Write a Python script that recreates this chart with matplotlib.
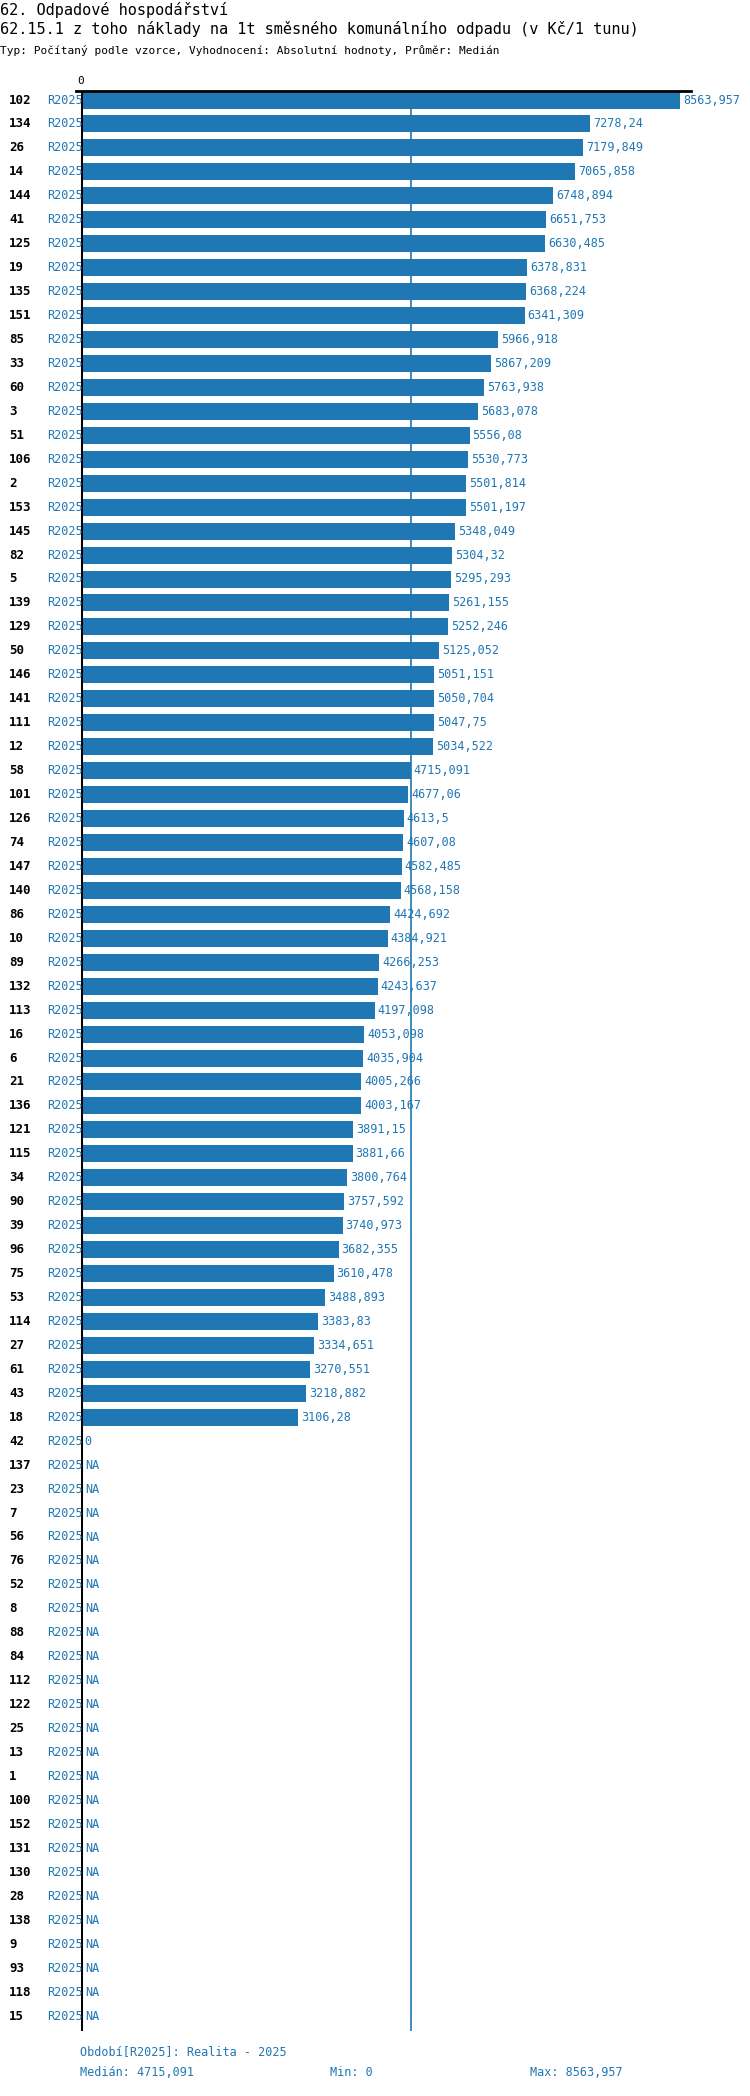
import matplotlib
matplotlib.use("Agg")
import matplotlib.pyplot as plt
import numpy as np

ids = ["102","134","26","14","144","41","125","19","135","151","85","33","60","3","51","106","2","153","145","82","5","139","129","50","146","141","111","12","58","101","126","74","147","140","86","10","89","132","113","16","6","21","136","121","115","34","90","39","96","75","53","114","27","61","43","18","42","137","23","7","56","76","52","8","88","84","112","122","25","13","1","100","152","131","130","28","138","9","93","118","15"]
values = [8563.957,7278.24,7179.849,7065.858,6748.894,6651.753,6630.485,6378.831,6368.224,6341.309,5966.918,5867.209,5763.938,5683.078,5556.08,5530.773,5501.814,5501.197,5348.049,5304.32,5295.293,5261.155,5252.246,5125.052,5051.151,5050.704,5047.75,5034.522,4715.091,4677.06,4613.5,4607.08,4582.485,4568.158,4424.692,4384.921,4266.253,4243.637,4197.098,4053.098,4035.904,4005.266,4003.167,3891.15,3881.66,3800.764,3757.592,3740.973,3682.355,3610.478,3488.893,3383.83,3334.651,3270.551,3218.882,3106.28,0.0] + [None]*24
period = "R2025"
median = 4715.091

BLUE = "#1f77b4"
W, H = 750, 2096
fig = plt.figure(figsize=(W/100, H/100), dpi=100)
mono = "DejaVu Sans Mono"

def fmt(v):
    s = f"{v:.3f}".rstrip("0").rstrip(".")
    return s.replace(".", ",")

ax_l, ax_r, ax_t, ax_b = 81, 740, 91, 2031
ax = fig.add_axes([ax_l/W, 1-ax_b/H, (ax_r-ax_l)/W, (ax_b-ax_t)/H])
vmax = max(v for v in values if v is not None)
px_per = (680-81)/vmax
ax.set_xlim(0, (ax_r-ax_l)/px_per)
n = len(ids)
step = (2016-100)/(n-1)
ax.set_ylim(80 + (2031-2016)/step, -(100-91)/step)
for s in ax.spines.values():
    s.set_visible(False)
ax.set_xticks([]); ax.set_yticks([])
ax.axvline(0, color="black", lw=2.2)
ax.axvline(median, color=BLUE, lw=1.2)
ax.plot([-5/px_per, 691/px_per-81/px_per], [-(100-91)/step]*2, color="black", lw=2, clip_on=False)
for i, (lab, v) in enumerate(zip(ids, values)):
    fig_y = 1-(100+i*step)/H
    fig.text(9/W, fig_y, lab, fontsize=9, fontweight="bold", family=mono, va="center", color="black")
    fig.text(47/W, fig_y, period, fontsize=8.5, family=mono, va="center", color=BLUE)
    if v is None:
        ax.text(4/px_per, i, "NA", fontsize=8.5, family=mono, va="center", color=BLUE)
    else:
        ax.barh(i, v, height=17/step, color=BLUE)
        ax.text(v + 3/px_per, i, fmt(v), fontsize=8.5, family=mono, va="center", color=BLUE)

fig.text(0, 1-10/H, "62. Odpadové hospodářství", fontsize=11, family=mono, va="center")
fig.text(0, 1-29/H, "62.15.1 z toho náklady na 1t směsného komunálního odpadu (v Kč/1 tunu)", fontsize=11, family=mono, va="center")
fig.text(0, 1-50/H, "Typ: Počítaný podle vzorce, Vyhodnocení: Absolutní hodnoty, Průměr: Medián", fontsize=8, family=mono, va="center")
fig.text(81/W, 1-81/H, "0", fontsize=8, family=mono, va="center", ha="center")
fig.text(80/W, 1-2052/H, "Období[R2025]: Realita - 2025", fontsize=8.5, family=mono, va="center", color=BLUE)
fig.text(80/W, 1-2072/H, "Medián: " + fmt(median), fontsize=8.5, family=mono, va="center", color=BLUE)
fig.text(330/W, 1-2072/H, "Min: 0", fontsize=8.5, family=mono, va="center", color=BLUE)
fig.text(530/W, 1-2072/H, "Max: " + fmt(vmax), fontsize=8.5, family=mono, va="center", color=BLUE)
fig.savefig("out.png", dpi=100)
